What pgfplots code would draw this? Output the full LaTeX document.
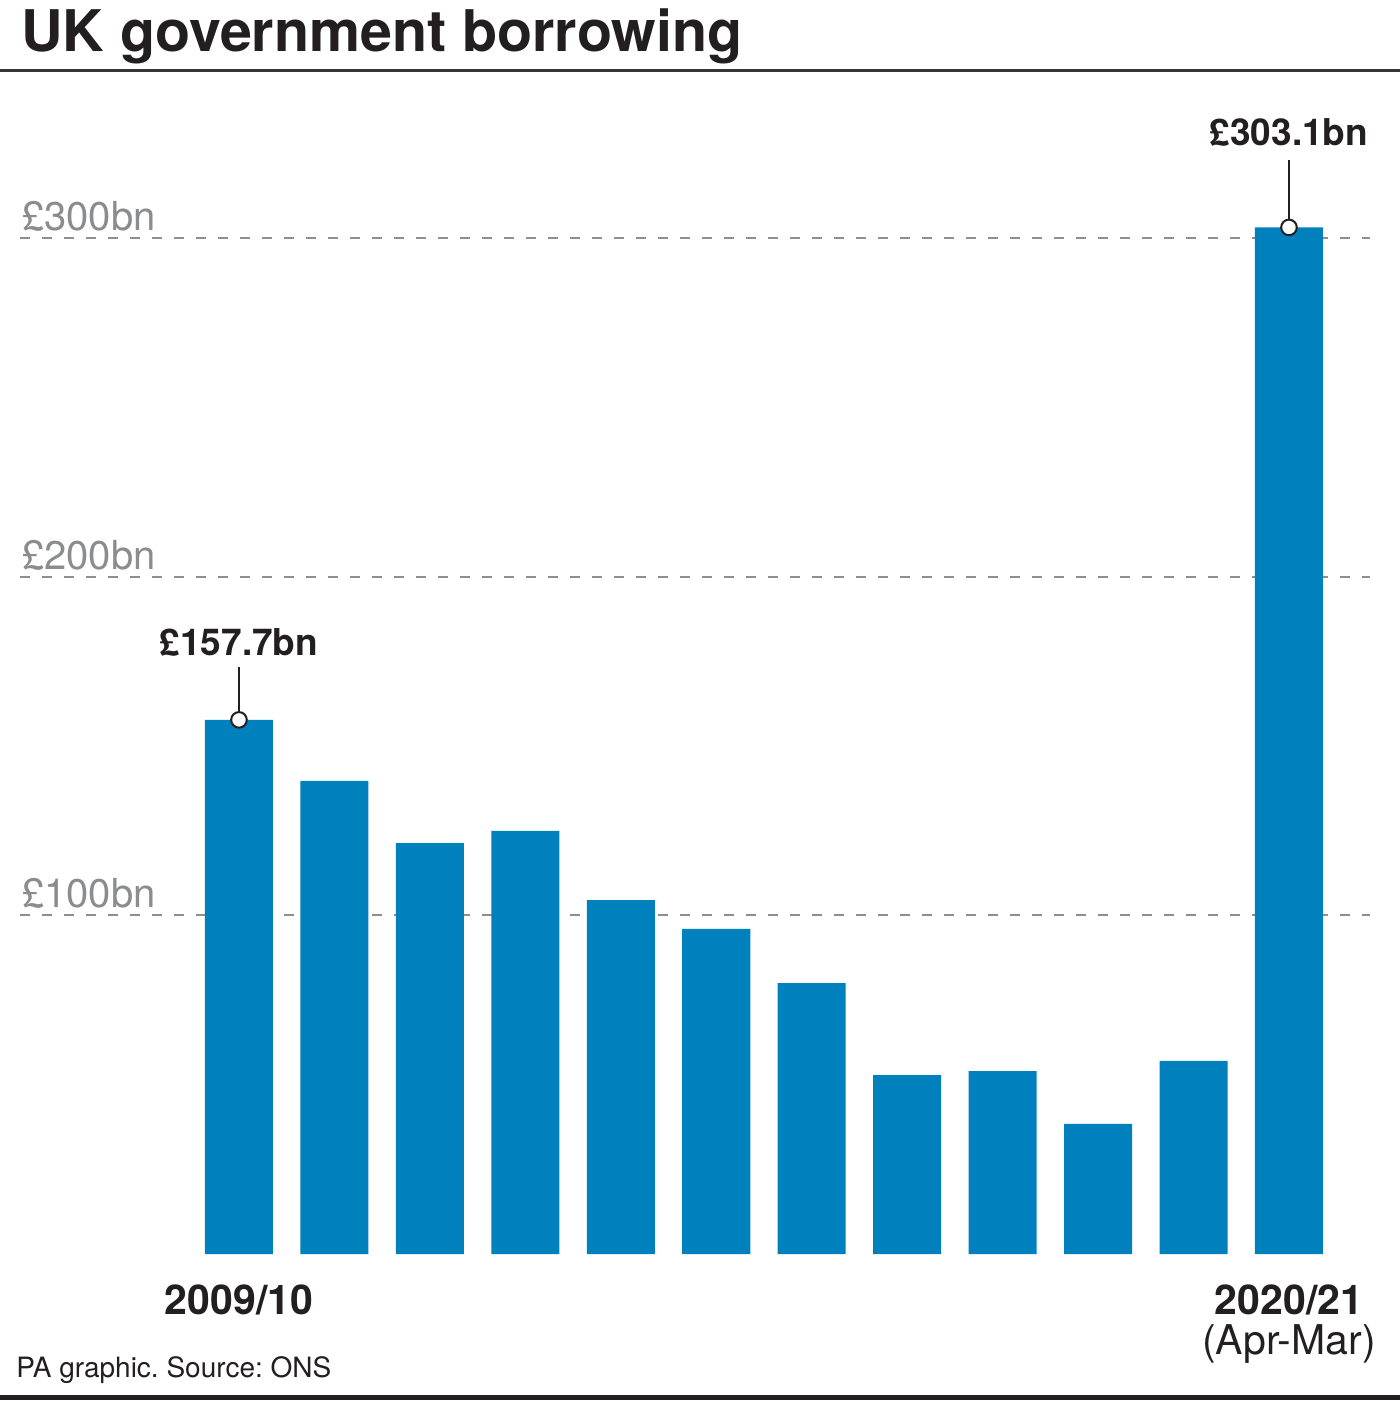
\documentclass[border=0pt]{standalone}
\usepackage{fontspec}
\setmainfont{TeX Gyre Heros}
\usepackage{pgfplots}
\pgfplotsset{compat=1.18}
\definecolor{barblue}{HTML}{0080BC}
\definecolor{txt}{HTML}{231F20}
\definecolor{tickgray}{HTML}{8A8C8E}
\definecolor{gridgray}{HTML}{8E8E8E}
\frenchspacing
\begin{document}
\begin{tikzpicture}
\path[use as bounding box] (0,0) rectangle (700pt,700.5pt);
\node[anchor=base west, inner sep=0pt, font=\fontsize{28.7}{29}\selectfont\bfseries, text=txt] at (10.5pt,674.5pt) {UK government borrowing};
\draw[color=txt!90, line width=1.5pt] (0,665pt) -- (700pt,665pt);
\draw[color=txt, line width=2.6pt] (0,1.8pt) -- (700pt,1.8pt);
\node[anchor=base west, inner sep=0pt, font=\fontsize{14}{14}\selectfont, text=txt] at (8pt,11.5pt) {PA graphic. Source: ONS};
\begin{axis}[
  at={(10pt,73.5pt)}, anchor=south west,
  scale only axis, width=675pt, height=541.9pt,
  xmin=-2.294, xmax=11.849, ymin=0, ymax=320,
  clip=false,
  axis line style={draw=none},
  major tick length=0pt,
  ymajorgrids,
  grid style={gridgray, line width=1pt, dash pattern=on 5pt off 6pt},
  ytick={100,200,300},
  yticklabels={£100bn,£200bn,£300bn},
  yticklabel style={anchor=base east, inner sep=0pt, xshift=68pt, yshift=3.7pt,
    font=\fontsize{20}{20}\selectfont, text=tickgray},
  xtick={0,11},
  xticklabels={\textbf{2009/10}, {\textbf{2020/21}\\(Apr-Mar)}},
  xticklabel style={anchor=north, inner sep=0pt, yshift=-15pt, align=center,
    font=\fontsize{20.5}{20}\selectfont, text=txt},
]
\addplot[ybar, bar width=34pt, fill=barblue, draw=none] coordinates {
 (0,157.7) (1,139.7) (2,121.3) (3,124.9) (4,104.5) (5,96.0)
 (6,80.0) (7,52.8) (8,54.0) (9,38.4) (10,57.0) (11,303.1)};
\draw[txt, line width=1pt] (axis cs:0,157.7) -- ++(0pt,26.5pt);
\draw[txt, line width=1pt] (axis cs:11,303.1) -- ++(0pt,33.5pt);
\addplot[only marks, mark=*, mark size=3.9pt, mark options={fill=white, draw=txt, line width=1pt}]
 coordinates {(0,157.7) (11,303.1)};
\node[anchor=base, inner sep=0pt, font=\fontsize{18.5}{20}\selectfont\bfseries, text=txt] at (axis cs:0,157.7) [yshift=32pt] {£157.7bn};
\node[anchor=base, inner sep=0pt, font=\fontsize{18.5}{20}\selectfont\bfseries, text=txt] at (axis cs:11,303.1) [yshift=41pt] {£303.1bn};
\end{axis}
\end{tikzpicture}
\end{document}
